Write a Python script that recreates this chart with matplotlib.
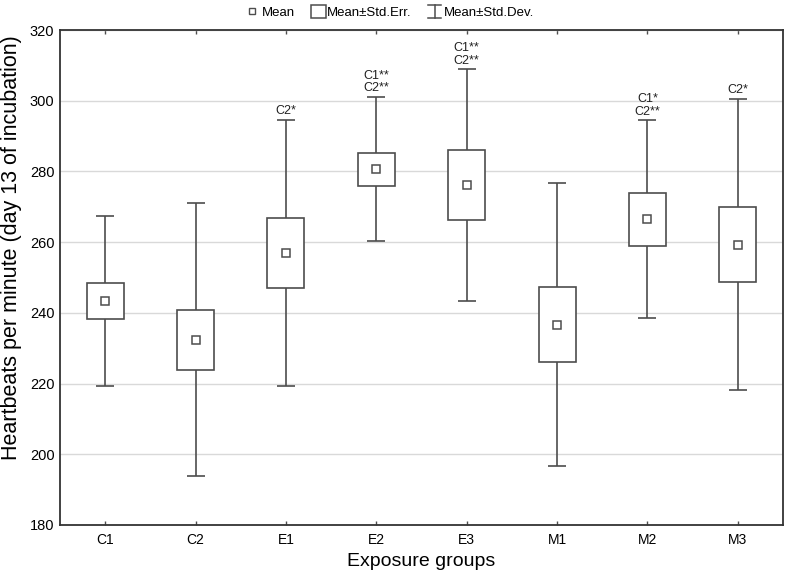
import matplotlib
matplotlib.use("Agg")
import matplotlib.pyplot as plt
from matplotlib.lines import Line2D
from matplotlib.patches import Rectangle
from matplotlib.legend_handler import HandlerBase

plt.rcParams['font.family'] = ['Liberation Sans', 'DejaVu Sans']

# data
groups = ['C1', 'C2', 'E1', 'E2', 'E3', 'M1', 'M2', 'M3']
means = [243.4, 232.4, 257.0, 280.6, 276.2, 236.7, 266.5, 259.3]
se = [5.0, 8.5, 9.85, 4.75, 9.85, 10.5, 7.5, 10.65]
sd = [24.0, 38.6, 37.6, 20.4, 32.7, 40.15, 27.95, 41.25]
signif = ['', '', 'C2*', 'C1**\nC2**', 'C1**\nC2**', '', 'C1*\nC2**', 'C2*']

lc = '#4d4d4d'

fig = plt.figure(figsize=(7.87, 5.78), dpi=100)
ax = fig.add_axes([0.0762, 0.0917, 0.9188, 0.8563])

x = list(range(len(groups)))
ax.errorbar(x, means, yerr=sd, fmt='none', ecolor=lc, elinewidth=1.2,
            capsize=6.5, capthick=1.2, zorder=2)
lows = [m - s for m, s in zip(means, se)]
ax.bar(x, [2 * s for s in se], bottom=lows, width=0.41, facecolor='white',
       edgecolor=lc, linewidth=1.2, zorder=3)
ax.plot(x, means, 's', ms=6, mfc='white', mec=lc, mew=1.1, zorder=4)

for i, txt in enumerate(signif):
    if txt:
        ax.annotate(txt, xy=(i, means[i] + sd[i]), xytext=(0, 2),
                    textcoords='offset points', ha='center', va='bottom',
                    fontsize=9, linespacing=1.1, color='#222222')

ax.set_xlim(-0.5, 7.5)
ax.set_ylim(180, 320)
ax.set_yticks(range(180, 321, 20))
ax.set_xticks(x)
ax.set_xticklabels(groups)
ax.yaxis.grid(True, color='#d9d9d9', lw=1)
ax.set_axisbelow(True)
ax.tick_params(axis='x', direction='in', length=3, top=True, width=1,
               color=lc, labelsize=10, pad=6)
ax.tick_params(axis='y', length=0, labelsize=10.5, pad=4)
for s in ax.spines.values():
    s.set_color('#333333')
    s.set_linewidth(1.3)

ax.set_xlabel('Exposure groups', fontsize=14, labelpad=4)
ax.set_ylabel('Heartbeats per minute (day 13 of incubation)', fontsize=15.5)
ax.yaxis.set_label_coords(-0.053, 0.56)


class IHandler(HandlerBase):
    def create_artists(self, legend, orig, xd, yd, w, h, fontsize, trans):
        cx = xd + w / 2
        top = yd + h * 1.2
        bot = yd - h * 0.2
        cw = w * 0.45
        return [Line2D([cx, cx], [bot, top], color=lc, lw=1.1, transform=trans),
                Line2D([cx - cw, cx + cw], [top, top], color=lc, lw=1.1, transform=trans),
                Line2D([cx - cw, cx + cw], [bot, bot], color=lc, lw=1.1, transform=trans)]


class RectHandler(HandlerBase):
    def create_artists(self, legend, orig, xd, yd, w, h, fontsize, trans):
        r = Rectangle((xd, yd - h * 0.2), w * 1.1, h * 1.4,
                      facecolor='white', edgecolor=lc, lw=1.1, transform=trans)
        return [r]


h_mean = Line2D([], [], ls='none', marker='s', ms=5, mfc='white', mec=lc, mew=1)
h_se = Rectangle((0, 0), 1, 1)
h_sd = Line2D([], [])
fig.legend([h_mean, h_se, h_sd], ['Mean', 'Mean±Std.Err.', 'Mean±Std.Dev.'],
           handler_map={h_se: RectHandler(), h_sd: IHandler()},
           loc='center', bbox_to_anchor=(0.495, 0.978), ncol=3, frameon=False,
           fontsize=9.5, handlelength=1.1, handletextpad=0.15,
           columnspacing=1.2, borderpad=0)

fig.savefig('out.png', dpi=100)
